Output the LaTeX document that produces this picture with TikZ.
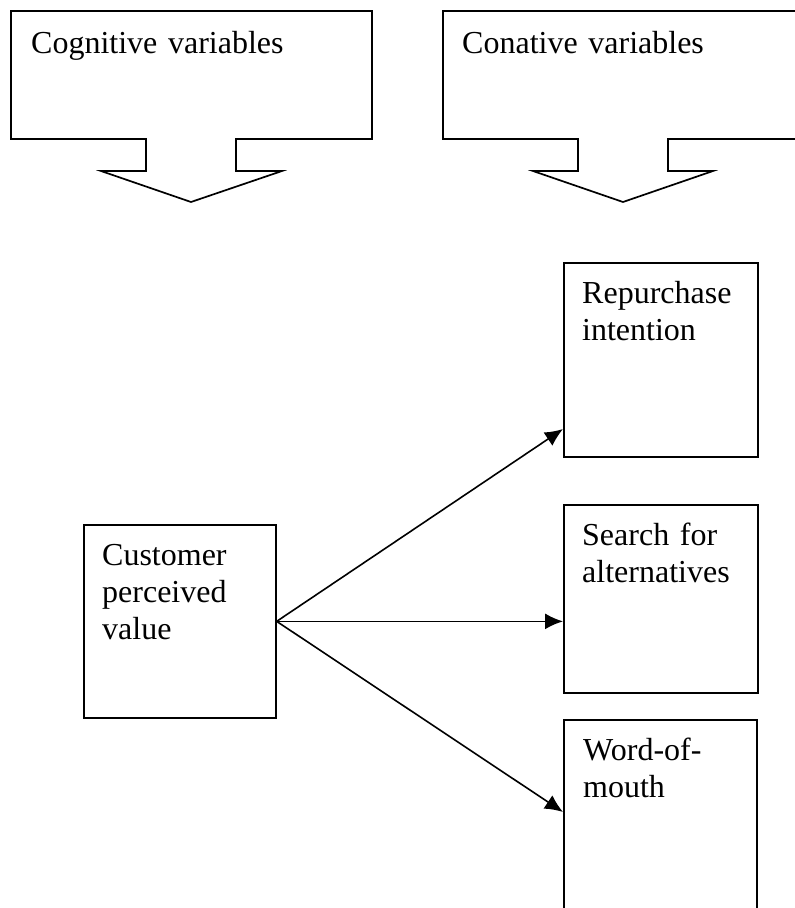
\documentclass[tikz,border=0pt]{standalone}
\usepackage{fontspec}
\setmainfont{Liberation Serif}
\usetikzlibrary{arrows.meta,calc}
\begin{document}
\begin{tikzpicture}[x=1pt,y=-1pt,
  outline/.style={draw=black,line width=1.7pt},
  boxnode/.style={outline,rectangle,inner sep=0pt,anchor=north west},
  txt/.style={anchor=base west,inner sep=0pt,align=left,text width=330pt,
    font=\fontsize{32}{37}\selectfont},
  conn/.style={line width=1.6pt,-{Latex[length=18pt,width=16pt]}}]
\useasboundingbox (0,0) rectangle (795,908);
\clip (0,0) rectangle (795,908);
% callouts
\draw[outline] (11,11) -- (372,11) -- (372,139) -- (236,139) -- (236,171) -- (282,171)
  -- (191,202) -- (101,171) -- (146,171) -- (146,139) -- (11,139) -- cycle;
\node[txt] (cog) at (31,53) {Cognitive variables};
\draw[outline] (443,11) -- (810,11) -- (810,139) -- (668,139) -- (668,171) -- (713,171)
  -- (623,202) -- (533,171) -- (578,171) -- (578,139) -- (443,139) -- cycle;
\node[txt] (con) at (462,53) {Conative variables};
% boxes
\node[boxnode,minimum width=192pt,minimum height=193pt] (cpv) at (83,524) {};
\node[txt] (cpvt) at (102,565) {Customer\\perceived\\value};
\node[boxnode,minimum width=194pt,minimum height=194pt] (rep) at (563,262) {};
\node[txt] (rept) at (582,303) {Repurchase\\intention};
\node[boxnode,minimum width=194pt,minimum height=188pt] (sea) at (563,504) {};
\node[txt] (seat) at (582,545) {Search for\\alternatives};
\node[boxnode,minimum width=193pt,minimum height=220pt] (wom) at (563,719) {};
\node[txt] (womt) at (583,760) {Word-of-\\mouth};
% connectors
\coordinate (src) at (cpv.east);
\draw[conn] (src) -- (rep.west |- 0,429);
\draw[conn] (src) -- (sea.west |- src);
\draw[conn] (src) -- (wom.west |- 0,812);
\end{tikzpicture}
\end{document}
